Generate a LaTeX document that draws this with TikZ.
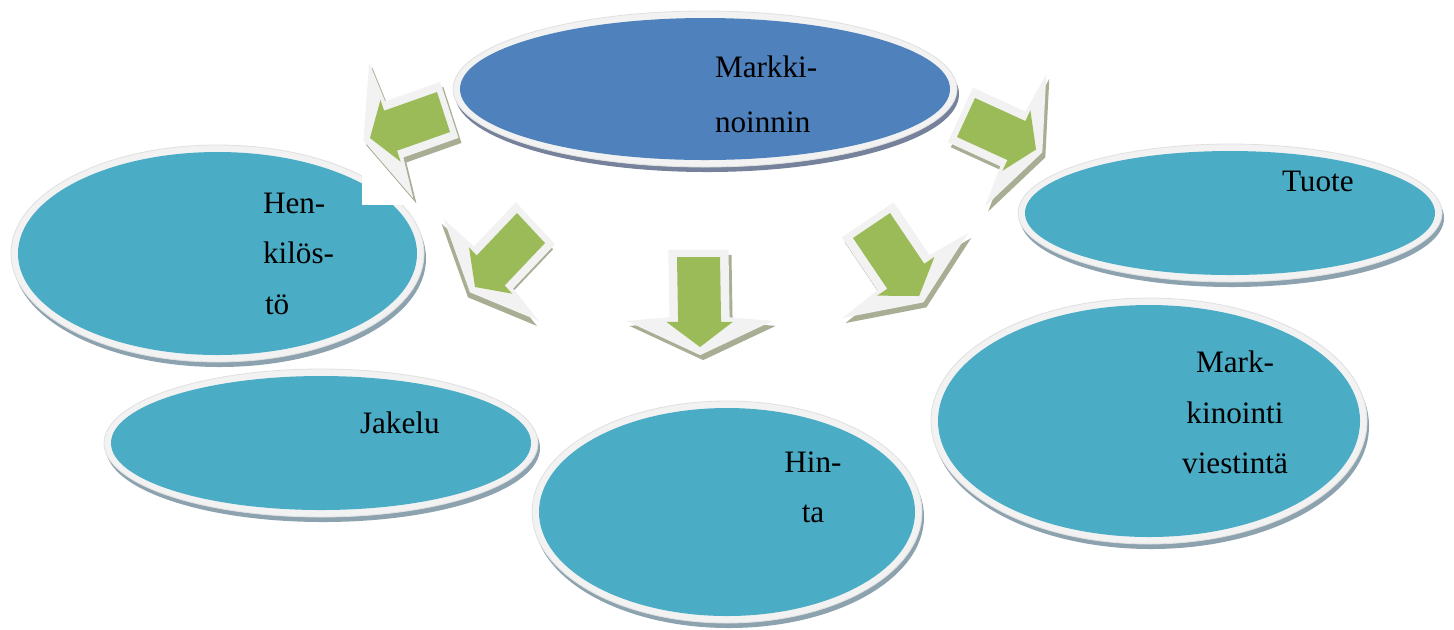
\documentclass[tikz,border=0pt]{standalone}
\usepackage{fontspec}
\setmainfont{Liberation Serif}
\usetikzlibrary{shapes.geometric,calc}
\definecolor{mblue}{RGB}{79,129,189}
\definecolor{mteal}{RGB}{75,172,198}
\definecolor{mgreen}{RGB}{155,187,89}
\definecolor{mrim}{RGB}{242,242,242}
\definecolor{mshadow}{RGB}{140,163,175}
\definecolor{bshadow}{RGB}{118,130,155}
\definecolor{ashadow}{RGB}{168,174,148}
\tikzset{
  bub/.style={ellipse, inner sep=0pt, outer sep=0pt},
  lbl/.style={inner sep=0pt, outer sep=0pt, text=black, font=\fontsize{15.6}{18}\selectfont},
}
% name, cx, cy, rx, ry, fill, shadow  (pixel units; 1px = 0.5pt)
\newcommand{\bubble}[7]{%
  \node[bub, fill=#7, minimum width={(#4+7)*1pt}, minimum height={(#5+7)*1pt}] (#1-sh) at (#2+2,#3+5) {};
  \node[bub, fill=mrim, draw=black!12, line width=0.4pt, minimum width={(#4+7)*1pt}, minimum height={(#5+7)*1pt}] (#1-rim) at (#2,#3) {};
  \node[bub, fill=#6, minimum width={#4*1pt}, minimum height={#5*1pt}] (#1) at (#2,#3) {};
}
% name, Tx, Ty, Ax, Ay, Bx, By, shadow dx, shadow dy
\newcommand{\blockarrow}[9]{%
  \coordinate (#1T) at (#2,#3);
  \coordinate (#1S) at (#2+#8,#3+#9);
  \coordinate (#1A) at (#4,#5);
  \coordinate (#1B) at (#6,#7);
  \foreach \n/\pu/\pv in {1/-0.08/1.4, 2/0.67/1.4, 3/0.71/3.4, 4/1.09/0, 5/0.71/-3.4, 6/0.67/-1.4, 7/-0.08/-1.4}{
    \coordinate (#1o\n) at ($(#1T)+\pu*(#1A)+\pv*(#1B)$);
    \coordinate (#1s\n) at ($(#1S)+\pu*(#1A)+\pv*(#1B)$);
  }
  \foreach \n/\pu/\pv in {1/0/1, 2/0.72/1, 3/0.72/1.55, 4/1/0, 5/0.72/-1.55, 6/0.72/-1, 7/0/-1}{
    \coordinate (#1g\n) at ($(#1T)+\pu*(#1A)+\pv*(#1B)$);
  }
  \fill[ashadow] (#1s1)--(#1s2)--(#1s3)--(#1s4)--(#1s5)--(#1s6)--(#1s7)--cycle;
  \fill[mrim] (#1o1)--(#1o2)--(#1o3)--(#1o4)--(#1o5)--(#1o6)--(#1o7)--cycle;
  \fill[mgreen] (#1g1)--(#1g2)--(#1g3)--(#1g4)--(#1g5)--(#1g6)--(#1g7)--cycle;
}
\begin{document}
\begin{tikzpicture}[x=0.5pt,y=-0.5pt]
\useasboundingbox (0,0) rectangle (1454,629);
\fill[white] (0,0) rectangle (1454,629);
% outer bubbles
\bubble{hen}{217.5}{253.5}{199.5}{101.5}{mteal}{mshadow}
\bubble{tuote}{1230}{213}{205}{62}{mteal}{mshadow}
\bubble{jakelu}{321}{443}{210}{67}{mteal}{mshadow}
\bubble{hinta}{727}{512}{188}{104}{mteal}{mshadow}
\bubble{viest}{1149}{421}{211}{116}{mteal}{mshadow}
% white backdrop of the upper-left arrow
\fill[white] (362,50) rectangle (478,205);
% arrows
\blockarrow{a1}{443.5}{112}{-73.5}{26}{6.5}{20}{3}{5}
\blockarrow{a2}{531}{228}{-56}{59}{14}{15}{-2}{5}
\blockarrow{a3}{698.5}{257}{1.5}{90}{21.5}{0}{3}{5}
\blockarrow{a4}{871.5}{225.5}{47.6}{70.5}{18.5}{-12.5}{3}{5}
\blockarrow{a5}{966}{117.5}{70}{32}{9}{-19.5}{3}{5}
% central bubble
\bubble{mkt}{705}{89}{245}{71}{mblue}{bshadow}
% labels
\node[lbl, anchor=base west] (t-mkt1) at (715,77) {Markki-};
\node[lbl, anchor=base west] (t-mkt2) at (715,132) {noinnin};
\node[lbl, anchor=base west] (t-hen1) at (263,213) {Hen-};
\node[lbl, anchor=base west] (t-hen2) at (263,263) {kilös-};
\node[lbl, anchor=base west] (t-hen3) at (265,314) {tö};
\node[lbl, anchor=base west] (t-tuote) at (1282,191) {Tuote};
\node[lbl, anchor=base west] (t-jakelu) at (360,433) {Jakelu};
\node[lbl, anchor=base] (t-hin1) at (813,472) {Hin-};
\node[lbl, anchor=base] (t-hin2) at (813,522) {ta};
\node[lbl, anchor=base] (t-v1) at (1235,372) {Mark-};
\node[lbl, anchor=base] (t-v2) at (1235,423) {kinointi};
\node[lbl, anchor=base] (t-v3) at (1235,473) {viestintä};
\end{tikzpicture}
\end{document}
